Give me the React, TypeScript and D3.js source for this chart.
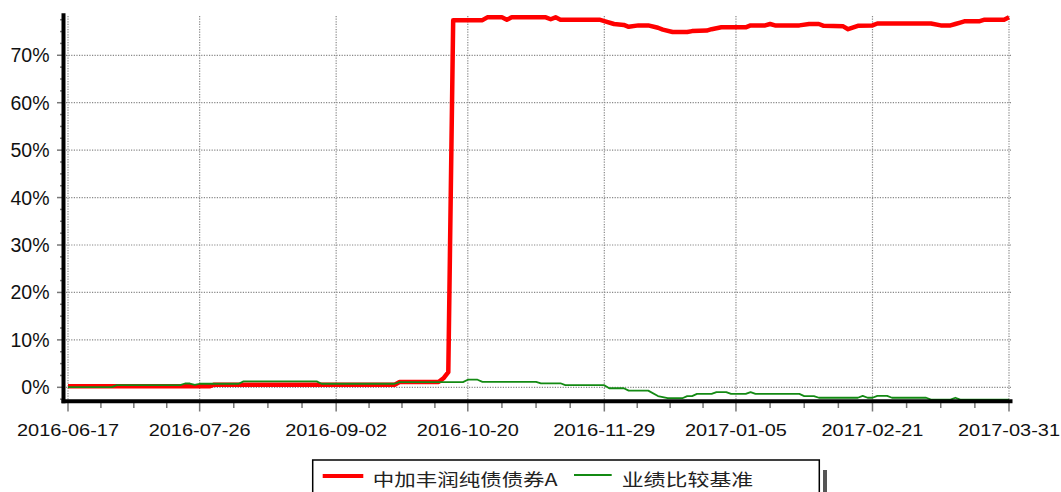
import * as d3 from 'd3';

// x = trading-day index (0 = 2016-06-17, 193 = 2017-03-31), y = cumulative return in %
const xTickLabels = ['2016-06-17', '2016-07-26', '2016-09-02', '2016-10-20', '2016-11-29', '2017-01-05', '2017-02-21', '2017-03-31'];
const xTickIdx = [0, 27, 55, 82, 110, 137, 165, 193];
const yTickValues = [0, 10, 20, 30, 40, 50, 60, 70];

const fundName = '中加丰润纯债债券A';
const benchName = '业绩比较基准';

const fundIdx = [0, 29, 30, 67, 68, 76, 77, 78, 79, 85, 86, 89, 90, 91, 98, 99, 100, 101, 109, 110, 112, 114, 115, 117, 119, 121, 122, 124, 127, 128, 131, 132, 134, 139, 140, 143, 144, 145, 150, 152, 154, 155, 159, 160, 162, 165, 166, 177, 179, 181, 182, 183, 184, 187, 188, 192, 193];
const fundVal = [0.2, 0.2, 0.55, 0.55, 1.1, 1.1, 1.9, 3.2, 77.4, 77.4, 78.0, 78.0, 77.5, 78.0, 78.0, 77.6, 78.0, 77.5, 77.5, 77.2, 76.6, 76.4, 76.0, 76.3, 76.3, 75.8, 75.4, 74.9, 74.9, 75.1, 75.2, 75.5, 75.9, 75.9, 76.3, 76.3, 76.6, 76.3, 76.3, 76.6, 76.6, 76.2, 76.1, 75.5, 76.2, 76.3, 76.7, 76.7, 76.3, 76.3, 76.6, 76.9, 77.2, 77.2, 77.5, 77.5, 78.0];

const benchIdx = [0, 9, 10, 23, 24, 25, 26, 27, 35, 36, 51, 52, 67, 68, 81, 82, 84, 85, 96, 97, 101, 102, 110, 111, 114, 115, 119, 121, 123, 126, 127, 128, 129, 132, 133, 135, 136, 139, 140, 141, 150, 151, 153, 154, 162, 163, 164, 165, 166, 168, 169, 176, 177, 181, 182, 183, 193];
const benchVal = [0.05, 0.05, 0.45, 0.45, 0.8, 0.8, 0.5, 0.75, 0.75, 1.25, 1.25, 0.75, 0.75, 1.1, 1.1, 1.6, 1.6, 1.15, 1.15, 0.85, 0.85, 0.45, 0.45, -0.2, -0.2, -0.7, -0.7, -1.85, -2.3, -2.3, -1.85, -1.85, -1.4, -1.4, -1.0, -1.0, -1.4, -1.4, -1.0, -1.4, -1.4, -1.85, -1.85, -2.2, -2.2, -1.8, -2.2, -2.2, -1.8, -1.8, -2.2, -2.2, -2.6, -2.6, -2.2, -2.6, -2.6];

const W = 1061;
const H = 492;
const font = '"Liberation Sans", Arial, sans-serif';
const cjkFont = '"Noto Sans CJK SC", "Liberation Sans", sans-serif';

export default function App() {
  const lastIdx = xTickIdx[xTickIdx.length - 1];
  const x = d3.scaleLinear().domain([0, lastIdx]).range([68, 1009]);
  const y = d3.scaleLinear().domain([-2.95, 78.85]).range([401.3, 13.3]);

  const line = d3.line<[number, number]>()
    .x(d => x(d[0]))
    .y(d => y(d[1]));

  const fundPts = fundIdx.map((d, i) => [d, fundVal[i]] as [number, number]);
  const benchPts = benchIdx.map((d, i) => [d, benchVal[i]] as [number, number]);

  const minorY = d3.range(-2.5, 78, 2.5);
  // minor x ticks: quarters between the labelled dates
  const minorX: number[] = [];
  xTickIdx.slice(1).forEach((t, i) => {
    const a = xTickIdx[i];
    for (let k = 1; k < 4; k++) minorX.push(a + (t - a) * k / 4);
  });

  const [y0, y1] = y.range();

  return (
    <svg width={W} height={H} style={{ position: 'absolute', left: 0, top: 0, background: '#fff' }}>
      {/* grid */}
      <g stroke="#888" strokeWidth={1.2} strokeDasharray="1.2,1.4">
        {yTickValues.map(v => (
          <line key={'gy' + v} x1={66} x2={1012} y1={y(v)} y2={y(v)} />
        ))}
        {xTickIdx.map(v => (
          <line key={'gx' + v} x1={x(v)} x2={x(v)} y1={16} y2={y0} />
        ))}
      </g>

      {/* series */}
      <path d={line(fundPts) || ''} fill="none" stroke="#ff0000" strokeWidth={4.5} strokeLinejoin="round" />
      <path d={line(benchPts) || ''} fill="none" stroke="#138a13" strokeWidth={1.8} strokeLinejoin="round" />

      {/* y axis */}
      <g stroke="#777" strokeWidth={1.5}>
        {minorY.map(v => (
          <line key={'my' + v} x1={v % 10 === 0 ? 57 : 60} x2={63} y1={y(v)} y2={y(v)} />
        ))}
      </g>
      <line x1={63.5} x2={63.5} y1={y1} y2={403.3} stroke="#000" strokeWidth={4} />
      {yTickValues.map(v => (
        <text key={'ty' + v} x={49.5} y={y(v) + 7} textAnchor="end" fontFamily={font} fontSize={19.5} fill="#111">
          {v}%
        </text>
      ))}

      {/* x axis */}
      <g stroke="#777" strokeWidth={1.5}>
        {minorX.map(v => (
          <line key={'mx' + v} x1={x(v)} x2={x(v)} y1={403} y2={408} />
        ))}
        {xTickIdx.map(v => (
          <line key={'jx' + v} x1={x(v)} x2={x(v)} y1={403} y2={411.5} />
        ))}
      </g>
      <line x1={61.5} x2={1012.5} y1={y0} y2={y0} stroke="#000" strokeWidth={4} />
      {xTickLabels.map((t, i) => (
        <text key={t} x={x(xTickIdx[i])} y={435.5} textAnchor="middle" fontFamily={font} fontSize={17}
          textLength={102} lengthAdjust="spacingAndGlyphs" fill="#111">
          {t}
        </text>
      ))}

      {/* legend */}
      <rect x={823} y={470} width={4} height={30} fill="#555" />
      <rect x={312.7} y={460} width={506.6} height={40} fill="#fff" stroke="#000" strokeWidth={1.5} />
      <line x1={322.7} x2={363.3} y1={476} y2={476} stroke="#ff0000" strokeWidth={4.2} />
      <text x={372.7} y={478.3} dominantBaseline="central" fontFamily={cjkFont} fontSize={17}
        textLength={185} lengthAdjust="spacingAndGlyphs" fill="#222">
        {fundName}
      </text>
      <line x1={574} x2={611.7} y1={475} y2={475} stroke="#138a13" strokeWidth={2} />
      <text x={621.7} y={478.3} dominantBaseline="central" fontFamily={cjkFont} fontSize={17}
        textLength={131.6} lengthAdjust="spacingAndGlyphs" fill="#222">
        {benchName}
      </text>
    </svg>
  );
}
